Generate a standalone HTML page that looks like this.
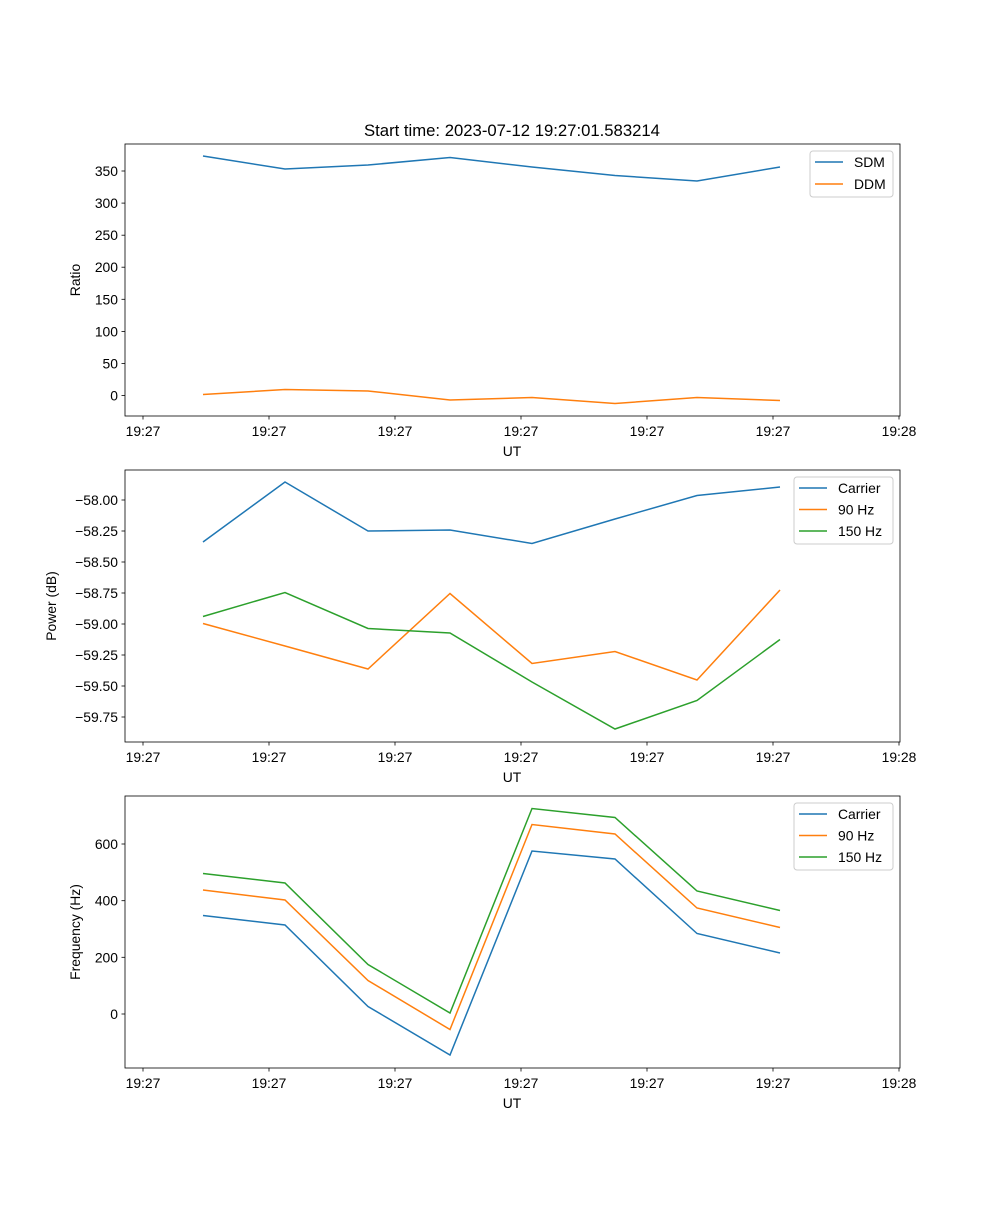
<!DOCTYPE html>
<html><head><meta charset="utf-8"><style>body{margin:0;background:#fff}</style></head><body>
<svg width="1000" height="1200" xmlns="http://www.w3.org/2000/svg" font-family="Liberation Sans, DejaVu Sans, sans-serif" font-size="13.9">
<rect width="1000" height="1200" fill="#fff"/>
<text x="512" y="136" font-size="16.7" text-anchor="middle">Start time: 2023-07-12 19:27:01.583214</text>

<!-- Plot 1 -->
<g>
<polyline fill="none" stroke="#1f77b4" stroke-width="1.5" points="203,156 285,169 368,165 450,157.5 532,167 615,175.5 697,181 780,167"/>
<polyline fill="none" stroke="#ff7f0e" stroke-width="1.5" points="203,394.5 285,389.5 368,391 450,400 532,397.5 615,403.5 697,397.5 780,400.5"/>
<rect x="125" y="144" width="775" height="272" fill="none" stroke="#000" stroke-width="0.8"/>
<g stroke="#000" stroke-width="0.8">
<line x1="121.5" x2="125" y1="395.5" y2="395.5"/><line x1="121.5" x2="125" y1="363.4" y2="363.4"/><line x1="121.5" x2="125" y1="331.4" y2="331.4"/><line x1="121.5" x2="125" y1="299.3" y2="299.3"/><line x1="121.5" x2="125" y1="267.2" y2="267.2"/><line x1="121.5" x2="125" y1="235.2" y2="235.2"/><line x1="121.5" x2="125" y1="203.1" y2="203.1"/><line x1="121.5" x2="125" y1="171" y2="171"/>
<line x1="143" x2="143" y1="416" y2="419.5"/><line x1="269" x2="269" y1="416" y2="419.5"/><line x1="395" x2="395" y1="416" y2="419.5"/><line x1="521" x2="521" y1="416" y2="419.5"/><line x1="647" x2="647" y1="416" y2="419.5"/><line x1="773" x2="773" y1="416" y2="419.5"/><line x1="899" x2="899" y1="416" y2="419.5"/>
</g>
<g text-anchor="end">
<text x="118" y="400.5">0</text><text x="118" y="368.4">50</text><text x="118" y="336.4">100</text><text x="118" y="304.3">150</text><text x="118" y="272.2">200</text><text x="118" y="240.2">250</text><text x="118" y="208.1">300</text><text x="118" y="176">350</text>
</g>
<g text-anchor="middle">
<text x="143" y="436">19:27</text><text x="269" y="436">19:27</text><text x="395" y="436">19:27</text><text x="521" y="436">19:27</text><text x="647" y="436">19:27</text><text x="773" y="436">19:27</text><text x="899" y="436">19:28</text>
<text x="512" y="456">UT</text>
</g>
<text transform="translate(80,280) rotate(-90)" text-anchor="middle">Ratio</text>
<rect x="810" y="151" width="83" height="46" fill="#fff" stroke="#ccc" rx="3"/>
<line x1="815" x2="843" y1="162" y2="162" stroke="#1f77b4" stroke-width="1.5"/><text x="854" y="167">SDM</text>
<line x1="815" x2="843" y1="184" y2="184" stroke="#ff7f0e" stroke-width="1.5"/><text x="854" y="189">DDM</text>
</g>

<!-- Plot 2 -->
<g>
<polyline fill="none" stroke="#1f77b4" stroke-width="1.5" points="203,542 285,482 368,531 450,530 532,543.5 615,519 697,495.5 780,487"/>
<polyline fill="none" stroke="#ff7f0e" stroke-width="1.5" points="203,623.5 285,646 368,669 450,593.5 532,663.5 615,651.5 697,680 780,590"/>
<polyline fill="none" stroke="#2ca02c" stroke-width="1.5" points="203,616.5 285,592.5 368,628.5 450,633 532,682 615,729 697,700.5 780,639.5"/>
<rect x="125" y="470" width="775" height="272" fill="none" stroke="#000" stroke-width="0.8"/>
<g stroke="#000" stroke-width="0.8">
<line x1="121.5" x2="125" y1="500" y2="500"/><line x1="121.5" x2="125" y1="531" y2="531"/><line x1="121.5" x2="125" y1="562" y2="562"/><line x1="121.5" x2="125" y1="593" y2="593"/><line x1="121.5" x2="125" y1="624" y2="624"/><line x1="121.5" x2="125" y1="655" y2="655"/><line x1="121.5" x2="125" y1="686" y2="686"/><line x1="121.5" x2="125" y1="717" y2="717"/>
<line x1="143" x2="143" y1="742" y2="745.5"/><line x1="269" x2="269" y1="742" y2="745.5"/><line x1="395" x2="395" y1="742" y2="745.5"/><line x1="521" x2="521" y1="742" y2="745.5"/><line x1="647" x2="647" y1="742" y2="745.5"/><line x1="773" x2="773" y1="742" y2="745.5"/><line x1="899" x2="899" y1="742" y2="745.5"/>
</g>
<g text-anchor="end">
<text x="118" y="505">−58.00</text><text x="118" y="536">−58.25</text><text x="118" y="567">−58.50</text><text x="118" y="598">−58.75</text><text x="118" y="629">−59.00</text><text x="118" y="660">−59.25</text><text x="118" y="691">−59.50</text><text x="118" y="722">−59.75</text>
</g>
<g text-anchor="middle">
<text x="143" y="762">19:27</text><text x="269" y="762">19:27</text><text x="395" y="762">19:27</text><text x="521" y="762">19:27</text><text x="647" y="762">19:27</text><text x="773" y="762">19:27</text><text x="899" y="762">19:28</text>
<text x="512" y="782">UT</text>
</g>
<text transform="translate(56,606) rotate(-90)" text-anchor="middle">Power (dB)</text>
<rect x="794" y="477" width="99" height="67" fill="#fff" stroke="#ccc" rx="3"/>
<line x1="799" x2="827" y1="488" y2="488" stroke="#1f77b4" stroke-width="1.5"/><text x="838" y="493">Carrier</text>
<line x1="799" x2="827" y1="509.5" y2="509.5" stroke="#ff7f0e" stroke-width="1.5"/><text x="838" y="514.5">90 Hz</text>
<line x1="799" x2="827" y1="531" y2="531" stroke="#2ca02c" stroke-width="1.5"/><text x="838" y="536">150 Hz</text>
</g>

<!-- Plot 3 -->
<g>
<polyline fill="none" stroke="#1f77b4" stroke-width="1.5" points="203,915.5 285,925 368,1006.5 450,1055 532,851 615,859 697,933.5 780,953"/>
<polyline fill="none" stroke="#ff7f0e" stroke-width="1.5" points="203,890 285,900 368,980.5 450,1029.5 532,824.5 615,834 697,908 780,927.5"/>
<polyline fill="none" stroke="#2ca02c" stroke-width="1.5" points="203,873.5 285,883 368,964.5 450,1013 532,808.5 615,817.5 697,891 780,910.5"/>
<rect x="125" y="796" width="775" height="272" fill="none" stroke="#000" stroke-width="0.8"/>
<g stroke="#000" stroke-width="0.8">
<line x1="121.5" x2="125" y1="1014" y2="1014"/><line x1="121.5" x2="125" y1="957.3" y2="957.3"/><line x1="121.5" x2="125" y1="900.7" y2="900.7"/><line x1="121.5" x2="125" y1="844" y2="844"/>
<line x1="143" x2="143" y1="1068" y2="1071.5"/><line x1="269" x2="269" y1="1068" y2="1071.5"/><line x1="395" x2="395" y1="1068" y2="1071.5"/><line x1="521" x2="521" y1="1068" y2="1071.5"/><line x1="647" x2="647" y1="1068" y2="1071.5"/><line x1="773" x2="773" y1="1068" y2="1071.5"/><line x1="899" x2="899" y1="1068" y2="1071.5"/>
</g>
<g text-anchor="end">
<text x="118" y="1019">0</text><text x="118" y="962.3">200</text><text x="118" y="905.7">400</text><text x="118" y="849">600</text>
</g>
<g text-anchor="middle">
<text x="143" y="1088">19:27</text><text x="269" y="1088">19:27</text><text x="395" y="1088">19:27</text><text x="521" y="1088">19:27</text><text x="647" y="1088">19:27</text><text x="773" y="1088">19:27</text><text x="899" y="1088">19:28</text>
<text x="512" y="1108">UT</text>
</g>
<text transform="translate(80,932) rotate(-90)" text-anchor="middle">Frequency (Hz)</text>
<rect x="794" y="803" width="99" height="67" fill="#fff" stroke="#ccc" rx="3"/>
<line x1="799" x2="827" y1="814" y2="814" stroke="#1f77b4" stroke-width="1.5"/><text x="838" y="819">Carrier</text>
<line x1="799" x2="827" y1="835.5" y2="835.5" stroke="#ff7f0e" stroke-width="1.5"/><text x="838" y="840.5">90 Hz</text>
<line x1="799" x2="827" y1="857" y2="857" stroke="#2ca02c" stroke-width="1.5"/><text x="838" y="862">150 Hz</text>
</g>
</svg>
</body></html>
